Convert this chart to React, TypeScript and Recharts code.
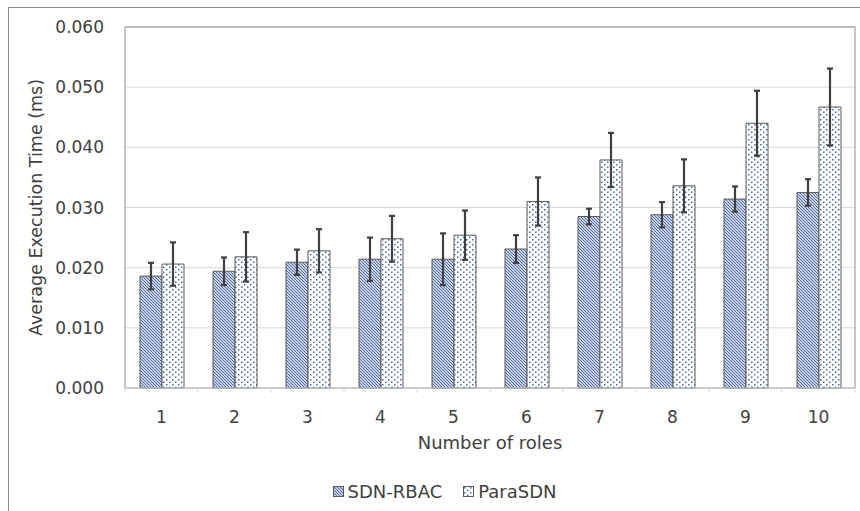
import React from 'react';
import { BarChart, Bar, XAxis, YAxis, CartesianGrid, ErrorBar, Legend, ReferenceArea, Label } from 'recharts';

const roles = ['1', '2', '3', '4', '5', '6', '7', '8', '9', '10'];
const sdnRbac = [0.0186, 0.0194, 0.0209, 0.0214, 0.0214, 0.0231, 0.0285, 0.0288, 0.0314, 0.0325];
const sdnRbacErr = [0.0022, 0.0023, 0.0021, 0.0036, 0.0043, 0.0023, 0.0013, 0.0021, 0.0021, 0.0022];
const paraSdn = [0.0206, 0.0218, 0.0228, 0.0248, 0.0254, 0.031, 0.0379, 0.0336, 0.044, 0.0467];
const paraSdnErr = [0.0036, 0.0041, 0.0036, 0.0038, 0.0041, 0.004, 0.0045, 0.0044, 0.0054, 0.0064];
const yTicks = [0, 0.01, 0.02, 0.03, 0.04, 0.05, 0.06];
const seriesNames = ['SDN-RBAC', 'ParaSDN'];

const data = roles.map((r, i) => ({
  role: r,
  sdn: sdnRbac[i],
  sdnErr: sdnRbacErr[i],
  para: paraSdn[i],
  paraErr: paraSdnErr[i],
}));

const FONT = '"DejaVu Sans", sans-serif';
const TEXT = '#404040';
const BAND = 73;
const HATCH = '#41609e';
const DOT = '#4568ab';

function patternDefs(prefix: string) {
  return (
    <defs>
      <pattern id={`${prefix}hatch`} patternUnits="userSpaceOnUse" width="3" height="3">
        <rect width="3" height="3" fill="#ffffff" />
        <path d="M-1,2 L1,4 M0,0 L3,3 M2,-1 L4,1" stroke={HATCH} strokeWidth="1.05" />
      </pattern>
      <pattern id={`${prefix}dots`} patternUnits="userSpaceOnUse" width="6" height="5">
        <rect width="6" height="5" fill="#ffffff" />
        <rect x="1" y="1" width="1.5" height="1.5" fill={DOT} />
        <rect x="4" y="3.5" width="1.5" height="1.5" fill={DOT} />
      </pattern>
    </defs>
  );
}

const renderXTick = (props: any) => {
  const { x, y, payload, index } = props;
  return (
    <g>
      <line x1={x - BAND / 2} x2={x - BAND / 2} y1={y} y2={y + 5} stroke="#d9d9d9" />
      {index === roles.length - 1 && (
        <line x1={x + BAND / 2} x2={x + BAND / 2} y1={y} y2={y + 5} stroke="#d9d9d9" />
      )}
      <text x={x} y={y + 35} textAnchor="middle" fill={TEXT} fontSize={17} fontFamily={FONT}>
        {payload.value}
      </text>
    </g>
  );
};

const renderXLabel = (props: any) => {
  const { viewBox } = props;
  const cx = viewBox.x + viewBox.width / 2;
  return (
    <text x={cx} y={viewBox.y + 61} textAnchor="middle" fill={TEXT} fontSize={18} fontFamily={FONT}>
      Number of roles
    </text>
  );
};

const renderYLabel = (props: any) => {
  const { viewBox } = props;
  const cy = viewBox.y + viewBox.height / 2;
  const cx = 27;
  return (
    <text
      x={cx}
      y={cy}
      transform={`rotate(-90 ${cx} ${cy})`}
      textAnchor="middle"
      dominantBaseline="central"
      fill={TEXT}
      fontSize={17.5}
      fontFamily={FONT}
    >
      Average Execution Time (ms)
    </text>
  );
};

const renderLegend = () => (
  <div
    style={{
      display: 'flex',
      justifyContent: 'center',
      alignItems: 'center',
      paddingLeft: 20,
      fontFamily: FONT,
      fontSize: 18,
      color: TEXT,
      lineHeight: '21px',
    }}
  >
    {seriesNames.map((name, i) => (
      <div key={name} style={{ display: 'flex', alignItems: 'center', marginLeft: i === 0 ? 0 : 21 }}>
        <svg width={11} height={11} style={{ display: 'block' }}>
          {patternDefs(`lg${i}`)}
          <rect
            x={0.5}
            y={0.5}
            width={10}
            height={10}
            fill={i === 0 ? `url(#lg${i}hatch)` : `url(#lg${i}dots)`}
            stroke="#595959"
          />
        </svg>
        <span style={{ marginLeft: 4 }}>{name}</span>
      </div>
    ))}
  </div>
);

export default function App() {
  return (
    <div
      style={{
        position: 'absolute',
        left: 8,
        top: 7,
        width: 852,
        height: 504,
        borderTop: '1px solid #8c8c8c',
        borderLeft: '1px solid #8c8c8c',
        background: '#ffffff',
      }}
    >
      <BarChart
        width={851}
        height={503}
        data={data}
        margin={{ top: 19, right: 5, left: 0, bottom: 63 }}
        barCategoryGap={15}
        barGap={0}
        style={{ fontFamily: FONT }}
      >
        {patternDefs('c')}
        <CartesianGrid vertical={false} stroke="#d9d9d9" />
        <XAxis
          dataKey="role"
          axisLine={{ stroke: '#d9d9d9' }}
          tickLine={false}
          tickSize={0}
          tickMargin={0}
          height={60}
          interval={0}
          tick={renderXTick}
        >
          <Label content={renderXLabel} />
        </XAxis>
        <YAxis
          domain={[0, 0.06]}
          ticks={yTicks}
          interval={0}
          tickFormatter={(v: number) => v.toFixed(3)}
          axisLine={false}
          tickLine={false}
          tickSize={0}
          tickMargin={21}
          width={116}
          tick={{ fill: TEXT, fontSize: 17, fontFamily: FONT }}
        >
          <Label content={renderYLabel} />
        </YAxis>
        <Bar dataKey="sdn" name={seriesNames[0]} fill="url(#chatch)" stroke="#595959" strokeWidth={1} isAnimationActive={false}>
          <ErrorBar dataKey="sdnErr" width={3} strokeWidth={2.2} stroke="#404040" direction="y" />
        </Bar>
        <Bar dataKey="para" name={seriesNames[1]} fill="url(#cdots)" stroke="#595959" strokeWidth={1} isAnimationActive={false}>
          <ErrorBar dataKey="paraErr" width={3} strokeWidth={2.2} stroke="#404040" direction="y" />
        </Bar>
        <ReferenceArea y1={0} y2={0.06} fill="none" stroke="#8c8c8c" strokeWidth={1} ifOverflow="visible" />
        <Legend
          layout="horizontal"
          verticalAlign="middle"
          align="center"
          wrapperStyle={{ top: 473, left: 0, width: 851 }}
          content={renderLegend}
        />
      </BarChart>
    </div>
  );
}
